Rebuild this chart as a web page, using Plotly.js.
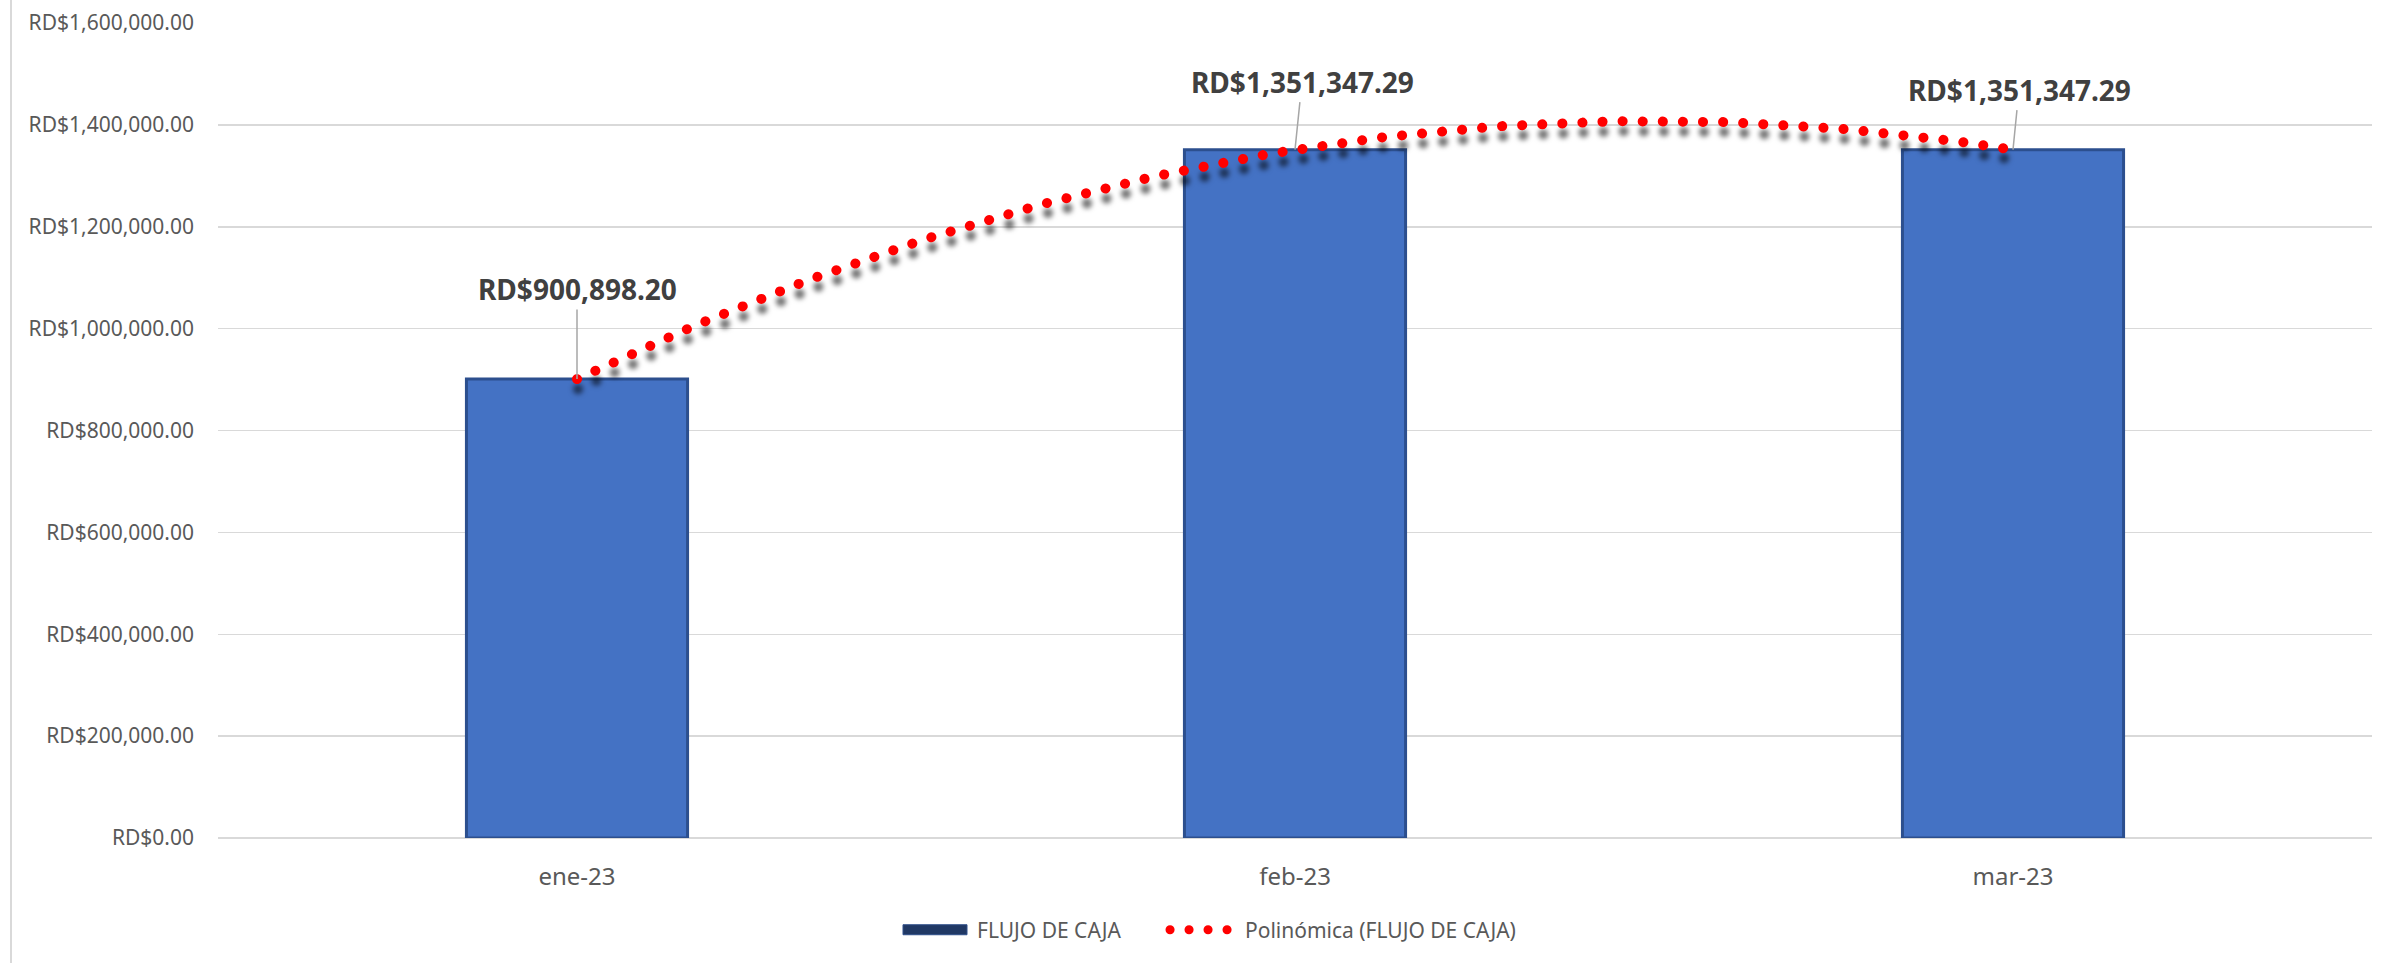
<!DOCTYPE html>
<html>
<head>
<meta charset="utf-8">
<script src="https://cdn.plot.ly/plotly-3.0.1.min.js"></script>
<style>
  html, body { margin: 0; padding: 0; background: #ffffff; }
  #chart { width: 2387px; height: 963px; }
  .scatterlayer .js-line { stroke-linecap: round; filter: drop-shadow(1px 10px 2.5px rgba(0,0,0,0.55)); }
  .legend .scrollbox { clip-path: none !important; }
  .legend .js-line { stroke-linecap: round; stroke-width: 9px !important; stroke-dasharray: 0.1px 18.9px !important; d: path("M-35,0h58"); }
  .legend .traces:first-child .legendpoints path { d: path("M-54,-5H10V5H-54Z"); fill: #203864 !important; stroke: #2F4F8A !important; stroke-width: 1px !important; }
</style>
</head>
<body>
<div id="chart"></div>
<script>
// ---- data ----
const categories = ["ene-23", "feb-23", "mar-23"];
const flujoDeCaja = [900898.20, 1351347.29, 1351347.29];
const seriesName = "FLUJO DE CAJA";
const trendName = "Polinómica (FLUJO DE CAJA)";
const yTickValues = [0, 200000, 400000, 600000, 800000, 1000000, 1200000, 1400000, 1600000];

// ---- order-2 polynomial trendline (least squares fit of the data) ----
function polyFit2(xs, ys) {
  let S = [0,0,0,0,0], T = [0,0,0];
  for (let i = 0; i < xs.length; i++) {
    let p = 1;
    for (let k = 0; k < 5; k++) { S[k] += p; if (k < 3) T[k] += p * ys[i]; p *= xs[i]; }
  }
  const A = [[S[0],S[1],S[2],T[0]],[S[1],S[2],S[3],T[1]],[S[2],S[3],S[4],T[2]]];
  for (let c = 0; c < 3; c++) {
    let piv = c;
    for (let r = c+1; r < 3; r++) if (Math.abs(A[r][c]) > Math.abs(A[piv][c])) piv = r;
    [A[c], A[piv]] = [A[piv], A[c]];
    for (let r = 0; r < 3; r++) if (r !== c) {
      const f = A[r][c] / A[c][c];
      for (let k = c; k < 4; k++) A[r][k] -= f * A[c][k];
    }
  }
  return [A[0][3]/A[0][0], A[1][3]/A[1][1], A[2][3]/A[2][2]];
}
const xIdx = categories.map((_, i) => i);
const coef = polyFit2(xIdx, flujoDeCaja);
const trendX = [], trendY = [];
for (let i = 0; i <= 200; i++) {
  const x = (xIdx.length - 1) * i / 200;
  trendX.push(x);
  trendY.push(coef[0] + coef[1]*x + coef[2]*x*x);
}

function fmtMoney(v) {
  return "RD$" + v.toLocaleString("en-US", {minimumFractionDigits: 2, maximumFractionDigits: 2});
}

const FONT = "'Noto Sans', 'Open Sans', sans-serif";

const traces = [
  {
    type: "bar",
    name: seriesName,
    x: xIdx,
    y: flujoDeCaja,
    width: 0.308,
    marker: { color: "#4472C4", line: { color: "#2C4F8E", width: 3 } },
    hoverinfo: "skip"
  },
  {
    type: "scatter",
    mode: "lines",
    name: trendName,
    x: trendX,
    y: trendY,
    line: { color: "#FF0000", width: 10, dash: "0.1px,20px" },
    hoverinfo: "skip"
  }
];

const labelOffsets = [[0, -90], [7, -68], [6, -60]];
const annotations = flujoDeCaja.map((v, i) => ({
  x: xIdx[i], y: v, xref: "x", yref: "y",
  text: "<b>" + fmtMoney(v) + "</b>",
  showarrow: true, arrowhead: 0, arrowwidth: 1.5, arrowcolor: "#A6A6A6",
  ax: labelOffsets[i][0], ay: labelOffsets[i][1],
  standoff: 0, startstandoff: 0,
  font: { family: FONT, size: 28, color: "#404040" }
}));

const layout = {
  width: 2387, height: 963,
  margin: { l: 218, r: 15, t: 23, b: 125 },
  paper_bgcolor: "#ffffff", plot_bgcolor: "#ffffff",
  font: { family: FONT, color: "#595959" },
  showlegend: true,
  legend: {
    orientation: "h", x: 0.3338, xanchor: "left", y: -0.113, yanchor: "middle",
    font: { family: FONT, size: 21, color: "#595959" },
    traceorder: "normal", entrywidth: 223, entrywidthmode: "pixels"
  },
  xaxis: {
    range: [-0.5, xIdx.length - 0.5],
    tickmode: "array", tickvals: xIdx, ticktext: categories,
    tickfont: { family: FONT, size: 24, color: "#595959" },
    showgrid: false, zeroline: false, showline: false, ticks: "",
    ticklabelstandoff: 22, fixedrange: true
  },
  yaxis: {
    range: [0, 1600000],
    tickmode: "array", tickvals: yTickValues, ticktext: yTickValues.map(fmtMoney),
    tickfont: { family: FONT, size: 21, color: "#595959" },
    showgrid: true, gridcolor: "#D9D9D9", gridwidth: 1.5,
    zeroline: true, zerolinecolor: "#D9D9D9", zerolinewidth: 1.5,
    showline: false, ticks: "", ticklabelstandoff: 23, fixedrange: true
  },
  annotations: annotations,
  shapes: [
    { type: "line", xref: "paper", yref: "paper",
      x0: -0.0961, x1: -0.0961, y0: -0.16, y1: 1.03,
      line: { color: "#D9D9D9", width: 2 } }
  ]
};

Plotly.newPlot("chart", traces, layout, { displayModeBar: false, staticPlot: true });
</script>
</body>
</html>
